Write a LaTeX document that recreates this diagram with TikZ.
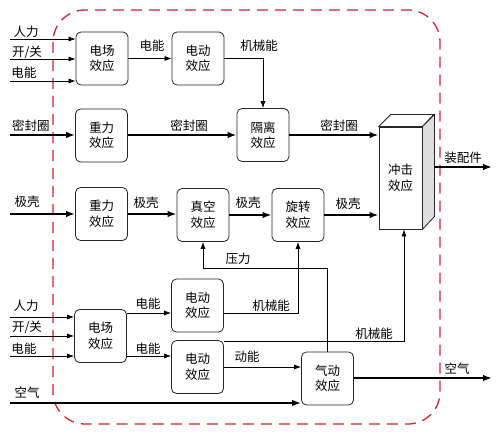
\documentclass[tikz,border=0pt]{standalone}
\usepackage{fontspec}
\setmainfont{Noto Sans CJK SC}
\usetikzlibrary{arrows.meta}
\definecolor{bordred}{RGB}{208,36,48}
\begin{document}
\begin{tikzpicture}[x=1pt,y=-1pt,
  txt/.style={font=\fontsize{12.5}{15.5}\selectfont},
  box/.style={txt, draw=black!85, line width=0.8pt, rounded corners=5pt, minimum width=52pt, minimum height=53pt, align=center, inner sep=0pt},
  lbl/.style={txt, inner sep=0pt},
  thinarrow/.style={line width=0.7pt, -{Latex[length=7pt,width=5pt]}},
  thickarrow/.style={line width=1.7pt, -{Latex[length=9pt,width=6.5pt]}},
  border/.style={draw=bordred, line width=1.3pt, dash pattern=on 11pt off 7pt, rounded corners=32pt}
]
\useasboundingbox (0,0) rectangle (503,433);
\draw[border] (53,10) rectangle (440,424);

% boxes
\node[box] (ef1) at (102,58.5) {电场\\效应};
\node[box] (ed1) at (198,58.5) {电动\\效应};
\node[box] (gl) at (263,135) {隔离\\效应};
\node[box] (zl1) at (101.5,135.5) {重力\\效应};
\node[box] (zl2) at (101.5,214) {重力\\效应};
\node[box] (zk) at (203,215) {真空\\效应};
\node[box] (xz) at (298,215) {旋转\\效应};
\node[box] (ef2) at (100.5,336) {电场\\效应};
\node[box] (ed2) at (197.5,305.5) {电动\\效应};
\node[box] (ed3) at (197.5,367) {电动\\效应};
\node[box] (qd) at (327.5,378.5) {气动\\效应};

% 3D impact box
\node[txt, draw=black!85, line width=0.8pt, minimum width=43pt, minimum height=102pt, inner sep=0pt, align=center, fill=white] (cj) at (400.5,178) {冲击\\效应};
\draw[draw=black!85, line width=0.8pt, fill=white] (cj.north west) -- ++(12,-12) -- ++(43,0) -- (cj.north east) -- cycle;
\draw[draw=black!85, line width=0.8pt, fill=black!13] (cj.north east) -- ++(12,-12) -- ++(0,102) -- (cj.south east) -- cycle;

% coordinates of free ends
\coordinate (a1) at (10,39);
\coordinate (a2) at (10,59);
\coordinate (a3) at (10,81);
\coordinate (b1) at (10,135);
\coordinate (c1) at (10,214);
\coordinate (d1) at (10,317);
\coordinate (d2) at (10,336);
\coordinate (d3) at (10,356);
\coordinate (e1) at (10,403);
\coordinate (out1) at (492,167);
\coordinate (out2) at (492,378);
\coordinate (cjin) at (434,167);

% top row inputs
\draw[thinarrow] (a1) -- (ef1.west |- a1);
\draw[thinarrow] (a2) -- (ef1.west |- a2);
\draw[thinarrow] (a3) -- (ef1.west |- a3);
\node[lbl] at (26,32) {人力};
\node[lbl] at (27,52) {开/关};
\node[lbl] at (24,73) {电能};

\draw[thinarrow] (ef1.east) -- (ed1.west);
\node[lbl] at (152,46) {电能};
\draw[thinarrow] (ed1.east) -| (gl.north);
\node[lbl] at (259,46) {机械能};

% second row
\draw[thickarrow] (b1) -- (zl1.west |- b1);
\node[lbl] at (31,126) {密封圈};
\draw[thickarrow] (zl1.east |- gl.west) -- (gl.west);
\node[lbl] at (189,126) {密封圈};
\draw[thickarrow] (gl.east) -- (cj.west |- gl.east);
\node[lbl] at (339,126) {密封圈};

% third row
\draw[thickarrow] (c1) -- (zl2.west |- c1);
\node[lbl] at (27,202) {极壳};
\draw[thickarrow] (zl2.east) -- (zk.west |- zl2.east);
\node[lbl] at (146,203) {极壳};
\draw[thickarrow] (zk.east) -- (xz.west);
\node[lbl] at (248,203) {极壳};
\draw[thickarrow] (xz.east) -- (cj.west |- xz.east);
\node[lbl] at (348,204) {极壳};

% output
\draw[thickarrow] (cjin) -- (out1);
\node[lbl] at (463,158) {装配件};

% lower part
\draw[thinarrow] (d1) -- (ef2.west |- d1);
\draw[thinarrow] (d2) -- (ef2.west |- d2);
\draw[thinarrow] (d3) -- (ef2.west |- d3);
\node[lbl] at (26,305.5) {人力};
\node[lbl] at (27,327) {开/关};
\node[lbl] at (24,348.5) {电能};

\coordinate (m1) at (150,313);
\coordinate (m2) at (150,356);
\draw[thinarrow] (ef2.east |- m1) -- (ed2.west |- m1);
\node[lbl] at (148,304) {电能};
\draw[thinarrow] (ef2.east |- m2) -- (ed3.west |- m2);
\node[lbl] at (148,348.5) {电能};

\draw[thinarrow] (ed2.east |- m1) -| (xz.south);
\node[lbl] at (271,306) {机械能};

\coordinate (m3) at (300,341.5);
\draw[thinarrow] (ed3.east |- m3) -| ([xshift=3.5pt]cj.south);
\node[lbl] at (374,334) {机械能};

\coordinate (m4) at (300,367);
\draw[thinarrow] (ed3.east |- m4) -- (qd.west |- m4);
\node[lbl] at (247,357) {动能};

\coordinate (m5) at (300,268);
\draw[thinarrow] (qd.north) |- (zk.south |- m5) -- (zk.south);
\node[lbl] at (238,259) {压力};

\draw[thickarrow] (e1) -- (qd.west |- e1);
\node[lbl] at (27,393) {空气};
\draw[thickarrow] (qd.east |- out2) -- (out2);
\node[lbl] at (457,369) {空气};
\end{tikzpicture}
\end{document}
